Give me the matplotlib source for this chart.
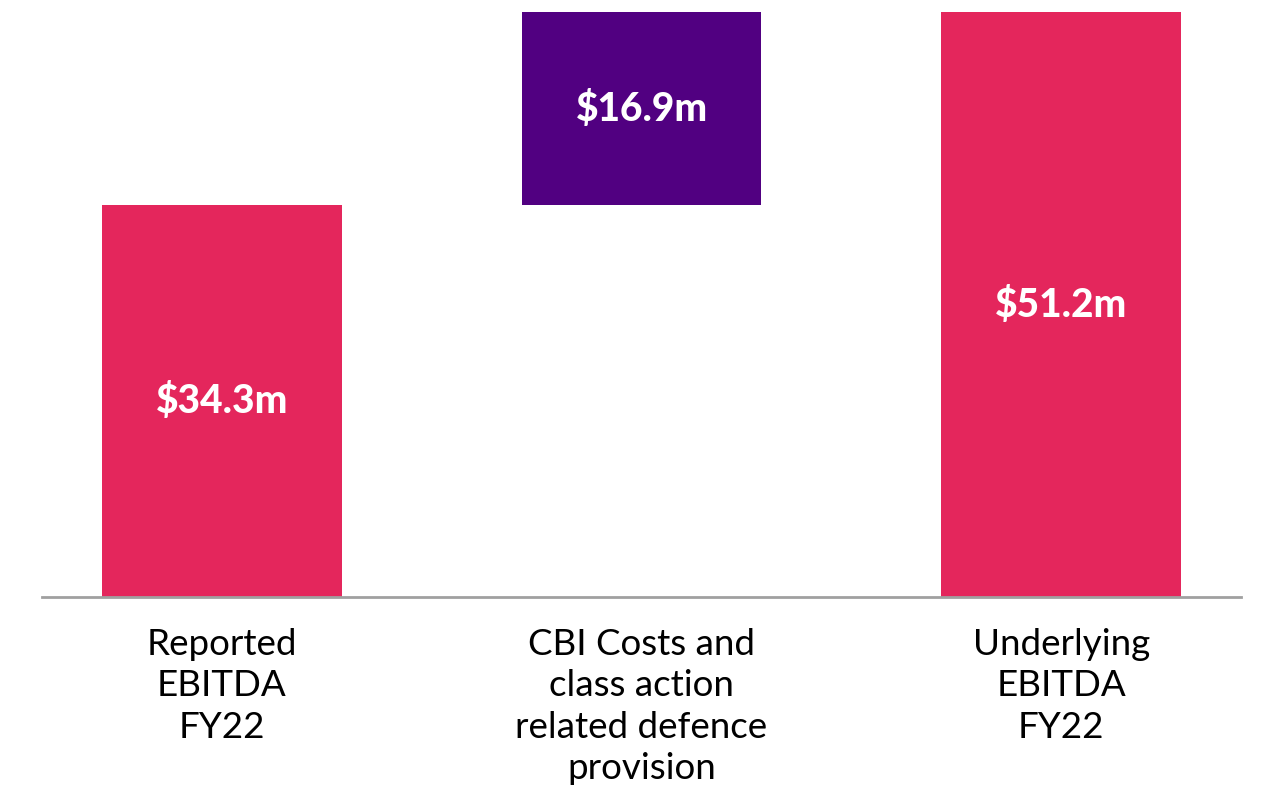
import matplotlib
matplotlib.use('Agg')
import matplotlib.pyplot as plt

# EBITDA bridge FY22 ($m)
categories = ['Reported\nEBITDA\nFY22',
              'CBI Costs and\nclass action\nrelated defence\nprovision',
              'Underlying\nEBITDA\nFY22']
values = [34.3, 16.9, 51.2]
is_total = [True, False, True]
value_labels = ['$34.3m', '$16.9m', '$51.2m']

pink = '#E4265C'
purple = '#510081'

plt.rcParams['font.family'] = ['Lato', 'DejaVu Sans']

fig = plt.figure(figsize=(12.61, 7.90), dpi=100)
ax = fig.add_axes([42/1261, 193/790, 1199/1261, 585/790])

# waterfall: totals start at zero, the step sits on the previous total
bottoms = []
running = 0
for v, tot in zip(values, is_total):
    if tot:
        bottoms.append(0)
        running = v
    else:
        bottoms.append(running)
        running += v

x = range(len(values))
colors = [pink if t else purple for t in is_total]
ax.bar(x, values, bottom=bottoms, width=240/420, color=colors)

for xi, v, b, lab in zip(x, values, bottoms, value_labels):
    ax.text(xi, b + v * 0.5, lab, ha='center', va='center', color='white',
            fontsize=28, fontweight='black')

ax.set_xlim(-0.4286, 2.4286)
ax.set_ylim(0, 51.2)
ax.set_xticks(list(x))
ax.set_xticklabels(categories, fontsize=26.5, linespacing=1.32)
ax.tick_params(axis='x', length=0, pad=22)
ax.set_yticks([])
for s in ['top', 'right', 'left']:
    ax.spines[s].set_visible(False)
ax.spines['bottom'].set_color('#A0A0A0')
ax.spines['bottom'].set_linewidth(2)

fig.savefig('out.png', dpi=100)
